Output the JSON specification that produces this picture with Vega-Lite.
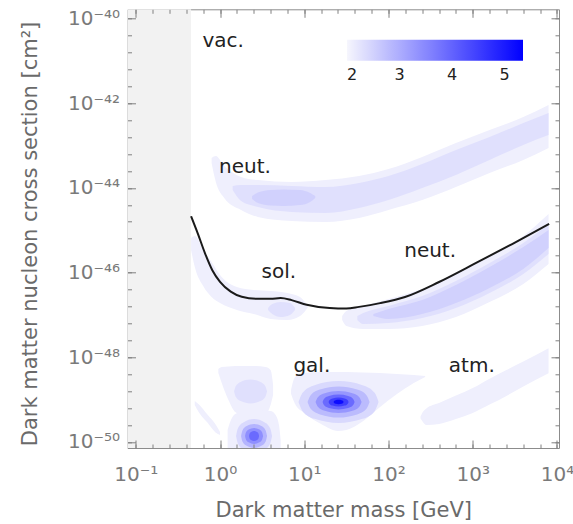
{
 "$schema": "https://vega.github.io/schema/vega-lite/v6.json",
 "width": 431.5,
 "height": 438.7,
 "autosize": {"type": "none"},
 "padding": {"left": 127.5, "top": 9.3, "right": 14, "bottom": 76},
 "background": "white",
 "config": {
  "view": {"stroke": "#8c8c8c", "strokeWidth": 1},
  "font": "DejaVu Sans",
  "axis": {"labelFont": "DejaVu Sans", "labelFontSize": 20, "labelColor": "#7a7a7a", "titleFont": "DejaVu Sans", "titleFontSize": 21, "titleFontWeight": "normal", "titleColor": "#6a6a6a", "ticks": true, "tickColor": "#808080", "tickWidth": 1, "tickOpacity": 1, "domain": false, "grid": false, "labelFlush": false, "labelOverlap": false}
 },
 "datasets": {
  "excl": [{"m0": 0.0797, "m1": 0.453, "s0": 7.21e-51, "s1": 1.65e-40}],
  "bands": [
   {"g":"nu1","v":2.1,"m":0.794,"lo":3.87e-44,"hi":5.08e-44},
   {"g":"nu1","v":2.1,"m":0.891,"lo":1.38e-44,"hi":5.66e-44},
   {"g":"nu1","v":2.1,"m":1.122,"lo":5.77e-45,"hi":3.29e-44},
   {"g":"nu1","v":2.1,"m":1.778,"lo":3.01e-45,"hi":1.81e-44},
   {"g":"nu1","v":2.1,"m":2.818,"lo":2.06e-45,"hi":1.53e-44},
   {"g":"nu1","v":2.1,"m":7.079,"lo":1.65e-45,"hi":1.38e-44},
   {"g":"nu1","v":2.1,"m":17.78,"lo":1.57e-45,"hi":1.53e-44},
   {"g":"nu1","v":2.1,"m":44.67,"lo":1.95e-45,"hi":1.91e-44},
   {"g":"nu1","v":2.1,"m":100,"lo":3.01e-45,"hi":2.79e-44},
   {"g":"nu1","v":2.1,"m":251.2,"lo":5.18e-45,"hi":5.37e-44},
   {"g":"nu1","v":2.1,"m":631,"lo":1.05e-44,"hi":1.15e-43},
   {"g":"nu1","v":2.1,"m":1585,"lo":2.25e-44,"hi":2.33e-43},
   {"g":"nu1","v":2.1,"m":3981,"lo":4.56e-44,"hi":4.72e-43},
   {"g":"nu1","v":2.1,"m":7943,"lo":8.75e-44,"hi":9.06e-43},
   {"g":"nl1","v":2.1,"m":28.18,"lo":7.60e-48,"hi":9.44e-48},
   {"g":"nl1","v":2.1,"m":31.62,"lo":5.48e-48,"hi":1.24e-47},
   {"g":"nl1","v":2.1,"m":50.12,"lo":4.66e-48,"hi":1.63e-47},
   {"g":"nl1","v":2.1,"m":100,"lo":4.66e-48,"hi":2.38e-47},
   {"g":"nl1","v":2.1,"m":251.2,"lo":5.48e-48,"hi":4.10e-47},
   {"g":"nl1","v":2.1,"m":631,"lo":8.93e-48,"hi":9.27e-47},
   {"g":"nl1","v":2.1,"m":1585,"lo":2.02e-47,"hi":2.47e-46},
   {"g":"nl1","v":2.1,"m":3981,"lo":5.38e-47,"hi":7.31e-46},
   {"g":"nl1","v":2.1,"m":7943,"lo":1.60e-46,"hi":2.42e-45},
   {"g":"so1","v":2.1,"m":0.453,"lo":3.42e-46,"hi":6.56e-46},
   {"g":"so1","v":2.1,"m":0.505,"lo":1.29e-46,"hi":7.31e-46},
   {"g":"so1","v":2.1,"m":0.631,"lo":4.82e-47,"hi":3.42e-46},
   {"g":"so1","v":2.1,"m":0.794,"lo":2.65e-47,"hi":1.78e-46},
   {"g":"so1","v":2.1,"m":1,"lo":1.91e-47,"hi":8.77e-47},
   {"g":"so1","v":2.1,"m":1.585,"lo":1.31e-47,"hi":4.57e-47},
   {"g":"so1","v":2.1,"m":2.512,"lo":1.05e-47,"hi":3.88e-47},
   {"g":"so1","v":2.1,"m":3.981,"lo":8.02e-48,"hi":3.67e-47},
   {"g":"so1","v":2.1,"m":6.31,"lo":7.60e-48,"hi":3.30e-47},
   {"g":"so1","v":2.1,"m":8.913,"lo":9.44e-48,"hi":2.65e-47},
   {"g":"so1","v":2.1,"m":10.47,"lo":1.31e-47,"hi":1.91e-47},
   {"g":"so1","v":2.1,"m":11.09,"lo":1.55e-47,"hi":1.70e-47},
   {"g":"ga1","v":2.1,"m":6.97,"lo":1.36e-49,"hi":1.69e-49},
   {"g":"ga1","v":2.1,"m":7.78,"lo":7.89e-50,"hi":3.43e-49},
   {"g":"ga1","v":2.1,"m":10,"lo":4.84e-50,"hi":4.26e-49},
   {"g":"ga1","v":2.1,"m":15.85,"lo":2.66e-50,"hi":4.50e-49},
   {"g":"ga1","v":2.1,"m":25.12,"lo":1.82e-50,"hi":4.50e-49},
   {"g":"ga1","v":2.1,"m":31.62,"lo":1.92e-50,"hi":4.50e-49},
   {"g":"ga1","v":2.1,"m":50.12,"lo":3.13e-50,"hi":4.38e-49},
   {"g":"ga1","v":2.1,"m":79.43,"lo":6.70e-50,"hi":4.26e-49},
   {"g":"ga1","v":2.1,"m":125.9,"lo":1.36e-49,"hi":4.04e-49},
   {"g":"ga1","v":2.1,"m":199.5,"lo":2.47e-49,"hi":3.82e-49},
   {"g":"ga1","v":2.1,"m":272.3,"lo":3.43e-49,"hi":3.61e-49},
   {"g":"bl1","v":2.1,"m":0.955,"lo":4.26e-49,"hi":5.30e-49},
   {"g":"bl1","v":2.1,"m":1.047,"lo":2.47e-49,"hi":5.90e-49},
   {"g":"bl1","v":2.1,"m":1.259,"lo":9.82e-50,"hi":6.07e-49},
   {"g":"bl1","v":2.1,"m":1.514,"lo":5.11e-50,"hi":6.22e-49},
   {"g":"bl1","v":2.1,"m":1.995,"lo":4.11e-50,"hi":6.22e-49},
   {"g":"bl1","v":2.1,"m":2.63,"lo":4.11e-50,"hi":6.22e-49},
   {"g":"bl1","v":2.1,"m":3.467,"lo":4.58e-50,"hi":5.90e-49},
   {"g":"bl1","v":2.1,"m":3.981,"lo":7.48e-50,"hi":5.01e-49},
   {"g":"bl1","v":2.1,"m":4.266,"lo":1.29e-49,"hi":2.22e-49},
   {"g":"bm1","v":2.1,"m":1.23,"lo":4.93e-51,"hi":1.92e-50},
   {"g":"bm1","v":2.1,"m":1.318,"lo":4.93e-51,"hi":2.96e-50},
   {"g":"bm1","v":2.1,"m":1.514,"lo":4.93e-51,"hi":4.58e-50},
   {"g":"bm1","v":2.1,"m":1.995,"lo":4.93e-51,"hi":5.40e-50},
   {"g":"bm1","v":2.1,"m":2.818,"lo":4.93e-51,"hi":5.69e-50},
   {"g":"bm1","v":2.1,"m":3.981,"lo":4.93e-51,"hi":5.40e-50},
   {"g":"bm1","v":2.1,"m":4.571,"lo":4.93e-51,"hi":4.34e-50},
   {"g":"bm1","v":2.1,"m":5.012,"lo":4.93e-51,"hi":2.52e-50},
   {"g":"bm1","v":2.1,"m":5.248,"lo":4.93e-51,"hi":1.11e-50},
   {"g":"sl1","v":2.1,"m":0.501,"lo":7.48e-50,"hi":9.29e-50},
   {"g":"sl1","v":2.1,"m":0.562,"lo":4.97e-50,"hi":7.69e-50},
   {"g":"sl1","v":2.1,"m":0.708,"lo":2.87e-50,"hi":4.44e-50},
   {"g":"sl1","v":2.1,"m":0.891,"lo":1.66e-50,"hi":2.56e-50},
   {"g":"sl1","v":2.1,"m":1.0,"lo":1.46e-50,"hi":1.72e-50},
   {"g":"at1","v":2.1,"m":239.9,"lo":3.6e-50,"hi":4.0e-50},
   {"g":"at1","v":2.1,"m":251.2,"lo":3.13e-50,"hi":4.84e-50},
   {"g":"at1","v":2.1,"m":281.8,"lo":2.52e-50,"hi":6.18e-50},
   {"g":"at1","v":2.1,"m":398.1,"lo":2.66e-50,"hi":8.34e-50},
   {"g":"at1","v":2.1,"m":631,"lo":3.49e-50,"hi":1.25e-49},
   {"g":"at1","v":2.1,"m":1000,"lo":4.84e-50,"hi":1.88e-49},
   {"g":"at1","v":2.1,"m":1585,"lo":7.64e-50,"hi":3.13e-49},
   {"g":"at1","v":2.1,"m":2512,"lo":1.22e-49,"hi":5.01e-49},
   {"g":"at1","v":2.1,"m":3981,"lo":2.05e-49,"hi":7.96e-49},
   {"g":"at1","v":2.1,"m":7943,"lo":4.19e-49,"hi":1.63e-48},
   {"g":"nu2","v":2.3,"m":1.413,"lo":8.91e-45,"hi":1.11e-44},
   {"g":"nu2","v":2.3,"m":1.778,"lo":4.91e-45,"hi":1.17e-44},
   {"g":"nu2","v":2.3,"m":2.818,"lo":3.54e-45,"hi":1.17e-44},
   {"g":"nu2","v":2.3,"m":7.079,"lo":2.70e-45,"hi":1.11e-44},
   {"g":"nu2","v":2.3,"m":17.78,"lo":2.55e-45,"hi":1.05e-44},
   {"g":"nu2","v":2.3,"m":44.67,"lo":3.35e-45,"hi":1.31e-44},
   {"g":"nu2","v":2.3,"m":100,"lo":5.18e-45,"hi":1.91e-44},
   {"g":"nu2","v":2.3,"m":251.2,"lo":9.95e-45,"hi":3.66e-44},
   {"g":"nu2","v":2.3,"m":631,"lo":2.02e-44,"hi":7.85e-44},
   {"g":"nu2","v":2.3,"m":1585,"lo":4.56e-44,"hi":1.59e-43},
   {"g":"nu2","v":2.3,"m":3981,"lo":1.03e-43,"hi":3.40e-43},
   {"g":"nu2","v":2.3,"m":7943,"lo":1.77e-43,"hi":5.87e-43},
   {"g":"nl2","v":2.3,"m":42.66,"lo":7.60e-48,"hi":9.44e-48},
   {"g":"nl2","v":2.3,"m":50.12,"lo":6.11e-48,"hi":1.11e-47},
   {"g":"nl2","v":2.3,"m":100,"lo":6.46e-48,"hi":1.63e-47},
   {"g":"nl2","v":2.3,"m":251.2,"lo":8.47e-48,"hi":2.80e-47},
   {"g":"nl2","v":2.3,"m":631,"lo":1.46e-47,"hi":6.34e-47},
   {"g":"nl2","v":2.3,"m":1585,"lo":3.30e-47,"hi":1.69e-46},
   {"g":"nl2","v":2.3,"m":3981,"lo":9.27e-47,"hi":5.00e-46},
   {"g":"nl2","v":2.3,"m":7943,"lo":2.75e-46,"hi":1.41e-45},
   {"g":"so2","v":2.3,"m":3.715,"lo":1.31e-47,"hi":1.46e-47},
   {"g":"so2","v":2.3,"m":4.169,"lo":1.05e-47,"hi":1.81e-47},
   {"g":"so2","v":2.3,"m":5.248,"lo":8.93e-48,"hi":2.02e-47},
   {"g":"so2","v":2.3,"m":6.761,"lo":9.98e-48,"hi":1.91e-47},
   {"g":"so2","v":2.3,"m":7.762,"lo":1.31e-47,"hi":1.46e-47},
   {"g":"bl2","v":2.3,"m":1.467,"lo":1.556e-49,"hi":1.556e-49},
   {"g":"bl2","v":2.3,"m":1.534,"lo":1.17e-49,"hi":2.07e-49},
   {"g":"bl2","v":2.3,"m":1.757,"lo":9.23e-50,"hi":2.62e-49},
   {"g":"bl2","v":2.3,"m":2.302,"lo":8.11e-50,"hi":2.99e-49},
   {"g":"bl2","v":2.3,"m":3.019,"lo":9.23e-50,"hi":2.62e-49},
   {"g":"bl2","v":2.3,"m":3.456,"lo":1.17e-49,"hi":2.07e-49},
   {"g":"bl2","v":2.3,"m":3.616,"lo":1.556e-49,"hi":1.556e-49},
   {"g":"ga2","v":2.4,"m":8.55,"lo":8.79e-50,"hi":8.79e-50},
   {"g":"ga2","v":2.4,"m":9.55,"lo":5.35e-50,"hi":1.445e-49},
   {"g":"ga2","v":2.4,"m":13.24,"lo":3.52e-50,"hi":2.19e-49},
   {"g":"ga2","v":2.4,"m":25.53,"lo":2.81e-50,"hi":2.75e-49},
   {"g":"ga2","v":2.4,"m":49.2,"lo":3.52e-50,"hi":2.19e-49},
   {"g":"ga2","v":2.4,"m":68.4,"lo":5.35e-50,"hi":1.445e-49},
   {"g":"ga2","v":2.4,"m":76.2,"lo":8.79e-50,"hi":8.79e-50},
   {"g":"bl3","v":2.4,"m":1.549,"lo":1.387e-50,"hi":1.387e-50},
   {"g":"bl3","v":2.4,"m":1.627,"lo":9.27e-51,"hi":2.07e-50},
   {"g":"bl3","v":2.4,"m":1.886,"lo":6.62e-51,"hi":2.90e-50},
   {"g":"bl3","v":2.4,"m":2.534,"lo":5.51e-51,"hi":3.49e-50},
   {"g":"bl3","v":2.4,"m":3.405,"lo":6.62e-51,"hi":2.90e-50},
   {"g":"bl3","v":2.4,"m":3.947,"lo":9.27e-51,"hi":2.07e-50},
   {"g":"bl3","v":2.4,"m":4.147,"lo":1.387e-50,"hi":1.387e-50},
   {"g":"nu3","v":2.5,"m":2.399,"lo":5.47e-45,"hi":6.44e-45},
   {"g":"nu3","v":2.5,"m":2.818,"lo":4.40e-45,"hi":7.78e-45},
   {"g":"nu3","v":2.5,"m":3.981,"lo":3.84e-45,"hi":8.91e-45},
   {"g":"nu3","v":2.5,"m":5.623,"lo":3.74e-45,"hi":9.16e-45},
   {"g":"nu3","v":2.5,"m":8.913,"lo":3.94e-45,"hi":8.91e-45},
   {"g":"nu3","v":2.5,"m":11.75,"lo":4.65e-45,"hi":7.59e-45},
   {"g":"nu3","v":2.5,"m":13.49,"lo":5.77e-45,"hi":6.44e-45},
   {"g":"nl3","v":2.5,"m":66.07,"lo":9.44e-48,"hi":1.05e-47},
   {"g":"nl3","v":2.5,"m":100,"lo":8.02e-48,"hi":1.38e-47},
   {"g":"nl3","v":2.5,"m":251.2,"lo":1.05e-47,"hi":2.25e-47},
   {"g":"nl3","v":2.5,"m":631,"lo":1.91e-47,"hi":5.09e-47},
   {"g":"nl3","v":2.5,"m":1585,"lo":4.33e-47,"hi":1.36e-46},
   {"g":"nl3","v":2.5,"m":3981,"lo":1.22e-46,"hi":4.02e-46},
   {"g":"nl3","v":2.5,"m":7943,"lo":3.81e-46,"hi":1.01e-45},
   {"g":"ga3","v":2.8,"m":10.94,"lo":8.79e-50,"hi":8.79e-50},
   {"g":"ga3","v":2.8,"m":11.91,"lo":6.08e-50,"hi":1.27e-49},
   {"g":"ga3","v":2.8,"m":15.37,"lo":4.48e-50,"hi":1.73e-49},
   {"g":"ga3","v":2.8,"m":25.53,"lo":3.78e-50,"hi":2.04e-49},
   {"g":"ga3","v":2.8,"m":42.46,"lo":4.48e-50,"hi":1.73e-49},
   {"g":"ga3","v":2.8,"m":54.8,"lo":6.08e-50,"hi":1.27e-49},
   {"g":"ga3","v":2.8,"m":59.6,"lo":8.79e-50,"hi":8.79e-50},
   {"g":"bl4","v":2.9,"m":1.776,"lo":1.387e-50,"hi":1.387e-50},
   {"g":"bl4","v":2.9,"m":1.84,"lo":1.04e-50,"hi":1.84e-50},
   {"g":"bl4","v":2.9,"m":2.047,"lo":8.22e-51,"hi":2.34e-50},
   {"g":"bl4","v":2.9,"m":2.534,"lo":7.23e-51,"hi":2.66e-50},
   {"g":"bl4","v":2.9,"m":3.136,"lo":8.22e-51,"hi":2.34e-50},
   {"g":"bl4","v":2.9,"m":3.49,"lo":1.04e-50,"hi":1.84e-50},
   {"g":"bl4","v":2.9,"m":3.616,"lo":1.387e-50,"hi":1.387e-50},
   {"g":"ga4","v":3.3,"m":13.62,"lo":8.79e-50,"hi":8.79e-50},
   {"g":"ga4","v":3.3,"m":14.51,"lo":6.78e-50,"hi":1.14e-49},
   {"g":"ga4","v":3.3,"m":17.52,"lo":5.45e-50,"hi":1.42e-49},
   {"g":"ga4","v":3.3,"m":25.53,"lo":4.83e-50,"hi":1.60e-49},
   {"g":"ga4","v":3.3,"m":37.26,"lo":5.45e-50,"hi":1.42e-49},
   {"g":"ga4","v":3.3,"m":45.0,"lo":6.78e-50,"hi":1.14e-49},
   {"g":"ga4","v":3.3,"m":47.9,"lo":8.79e-50,"hi":8.79e-50},
   {"g":"bl5","v":3.4,"m":1.981,"lo":1.387e-50,"hi":1.387e-50},
   {"g":"bl5","v":3.4,"m":2.031,"lo":1.15e-50,"hi":1.67e-50},
   {"g":"bl5","v":3.4,"m":2.186,"lo":9.79e-51,"hi":1.96e-50},
   {"g":"bl5","v":3.4,"m":2.534,"lo":8.97e-51,"hi":2.14e-50},
   {"g":"bl5","v":3.4,"m":2.937,"lo":9.79e-51,"hi":1.96e-50},
   {"g":"bl5","v":3.4,"m":3.162,"lo":1.15e-50,"hi":1.67e-50},
   {"g":"bl5","v":3.4,"m":3.242,"lo":1.387e-50,"hi":1.387e-50},
   {"g":"ga5","v":3.9,"m":16.5,"lo":8.79e-50,"hi":8.79e-50},
   {"g":"ga5","v":3.9,"m":17.23,"lo":7.36e-50,"hi":1.05e-49},
   {"g":"ga5","v":3.9,"m":19.65,"lo":6.34e-50,"hi":1.22e-49},
   {"g":"ga5","v":3.9,"m":25.53,"lo":5.85e-50,"hi":1.32e-49},
   {"g":"ga5","v":3.9,"m":33.22,"lo":6.34e-50,"hi":1.22e-49},
   {"g":"ga5","v":3.9,"m":37.88,"lo":7.36e-50,"hi":1.05e-49},
   {"g":"ga5","v":3.9,"m":39.57,"lo":8.79e-50,"hi":8.79e-50},
   {"g":"bl6","v":3.9,"m":2.21,"lo":1.387e-50,"hi":1.387e-50},
   {"g":"bl6","v":3.9,"m":2.241,"lo":1.23e-50,"hi":1.56e-50},
   {"g":"bl6","v":3.9,"m":2.334,"lo":1.12e-50,"hi":1.72e-50},
   {"g":"bl6","v":3.9,"m":2.534,"lo":1.06e-50,"hi":1.82e-50},
   {"g":"bl6","v":3.9,"m":2.75,"lo":1.12e-50,"hi":1.72e-50},
   {"g":"bl6","v":3.9,"m":2.866,"lo":1.23e-50,"hi":1.56e-50},
   {"g":"bl6","v":3.9,"m":2.906,"lo":1.387e-50,"hi":1.387e-50},
   {"g":"ga6","v":4.5,"m":19.44,"lo":8.79e-50,"hi":8.79e-50},
   {"g":"ga6","v":4.5,"m":19.98,"lo":7.91e-50,"hi":9.77e-50},
   {"g":"ga6","v":4.5,"m":21.68,"lo":7.23e-50,"hi":1.07e-49},
   {"g":"ga6","v":4.5,"m":25.53,"lo":6.89e-50,"hi":1.12e-49},
   {"g":"ga6","v":4.5,"m":30.1,"lo":7.23e-50,"hi":1.07e-49},
   {"g":"ga6","v":4.5,"m":32.68,"lo":7.91e-50,"hi":9.77e-50},
   {"g":"ga6","v":4.5,"m":33.58,"lo":8.79e-50,"hi":8.79e-50},
   {"g":"ga7","v":5.2,"m":22.28,"lo":8.79e-50,"hi":8.79e-50},
   {"g":"ga7","v":5.2,"m":22.59,"lo":8.34e-50,"hi":9.27e-50},
   {"g":"ga7","v":5.2,"m":23.53,"lo":7.99e-50,"hi":9.67e-50},
   {"g":"ga7","v":5.2,"m":25.53,"lo":7.80e-50,"hi":9.91e-50},
   {"g":"ga7","v":5.2,"m":27.73,"lo":7.99e-50,"hi":9.67e-50},
   {"g":"ga7","v":5.2,"m":28.89,"lo":8.34e-50,"hi":9.27e-50},
   {"g":"ga7","v":5.2,"m":29.29,"lo":8.79e-50,"hi":8.79e-50}
  ],
  "limit": [
   {"m":0.453,"s":2.14e-45},{"m":0.545,"s":8.32e-46},{"m":0.665,"s":2.82e-46},{"m":0.813,"s":1.12e-46},
   {"m":1,"s":6.03e-47},{"m":1.34,"s":3.55e-47},{"m":1.81,"s":2.69e-47},{"m":2.82,"s":2.40e-47},
   {"m":3.98,"s":2.40e-47},{"m":5.25,"s":2.51e-47},{"m":7.08,"s":2.24e-47},{"m":10.7,"s":1.74e-47},
   {"m":20,"s":1.45e-47},{"m":31.6,"s":1.41e-47},{"m":44.7,"s":1.55e-47},{"m":79.4,"s":1.90e-47},
   {"m":157,"s":2.65e-47},{"m":398,"s":6.00e-47},{"m":1096,"s":1.69e-46},{"m":2938,"s":4.73e-46},
   {"m":8072,"s":1.41e-45}
  ],
  "labels": [
   {"m":1.09,"s":2.12e-41,"t":"vac."},
   {"m":1.98,"s":2.19e-44,"t":"neut."},
   {"m":4.99,"s":7.33e-47,"t":"sol."},
   {"m":312,"s":2.38e-46,"t":"neut."},
   {"m":12.3,"s":4.57e-49,"t":"gal."},
   {"m":975,"s":4.57e-49,"t":"atm."}
  ]
 },
 "layer": [
  {
   "data": {"name": "excl"},
   "mark": {"type": "rect", "color": "#f2f2f2"},
   "encoding": {
    "x": {"field": "m0", "type": "quantitative", "scale": {"type": "log", "domain": [0.0797, 10570], "nice": false},
     "axis": {"orient": "top", "title": null, "labels": false, "offset": -8, "tickSize": 8, "zindex": 1, "values": [0.1, 1, 10, 100, 1000, 10000]}},
    "x2": {"field": "m1"},
    "y": {"field": "s0", "type": "quantitative", "scale": {"type": "log", "domain": [7.21e-51, 1.65e-40], "nice": false},
     "axis": {"orient": "right", "title": null, "labels": false, "offset": -8, "tickSize": 8, "zindex": 1, "values": [1e-40, 1e-42, 1e-44, 1e-46, 1e-48, 1e-50]}},
    "y2": {"field": "s1"}
   }
  },
  {
   "data": {"name": "bands"},
   "mark": {"type": "area", "interpolate": "monotone", "clip": true, "opacity": 1},
   "encoding": {
    "x": {"field": "m", "type": "quantitative", "scale": {"type": "log", "domain": [0.0797, 10570], "nice": false},
     "axis": {"orient": "bottom", "title": "Dark matter mass [GeV]", "titleBaseline": "alphabetic", "titleY": 72.7, "zindex": 1,
      "values": [0.1,0.1585,0.2512,0.3981,0.631,1,1.585,2.512,3.981,6.31,10,15.85,25.12,39.81,63.1,100,158.5,251.2,398.1,631,1000,1585,2512,3981,6310,10000],
      "labelExpr": "abs(log(datum.value)/LN10 - round(log(datum.value)/LN10)) < 0.01 ? ['10⁻¹','10⁰','10¹','10²','10³','10⁴'][round(log(datum.value)/LN10) + 1] : ''",
      "offset": -4, "tickSize": 4, "labelPadding": 16}},
    "y": {"field": "lo", "type": "quantitative", "stack": null, "scale": {"type": "log", "domain": [7.21e-51, 1.65e-40], "nice": false},
     "axis": {"orient": "left", "title": "Dark matter nucleon cross section [cm²]", "titleX": -95.5, "titleY": 224.2, "titleBaseline": "alphabetic", "titleAlign": "center", "titleAngle": -90, "zindex": 1,
      "values": [1e-40,3.98e-41,1.585e-41,6.31e-42,2.512e-42,1e-42,3.98e-43,1.585e-43,6.31e-44,2.512e-44,1e-44,3.98e-45,1.585e-45,6.31e-46,2.512e-46,1e-46,3.98e-47,1.585e-47,6.31e-48,2.512e-48,1e-48,3.98e-49,1.585e-49,6.31e-50,2.512e-50,1e-50],
      "labelExpr": "abs(log(datum.value)/LN10 - round(log(datum.value)/LN10)) < 0.01 ? ['10⁻⁵⁰','10⁻⁴⁸','10⁻⁴⁶','10⁻⁴⁴','10⁻⁴²','10⁻⁴⁰'][(round(log(datum.value)/LN10) + 50) / 2] : ''",
      "offset": -4, "tickSize": 4, "labelPadding": 8}},
    "y2": {"field": "hi"},
    "color": {"field": "v", "type": "quantitative", "scale": {"domain": [2, 5.35], "range": ["#f6f6fd", "#0000ff"], "interpolate": "rgb"},
     "legend": {"orient": "none", "direction": "horizontal", "legendX": 219.5, "legendY": 30.4, "padding": 0, "title": null,
      "gradientLength": 176, "gradientThickness": 21, "gradientStrokeWidth": 0, "values": [2, 3, 4, 5],
      "labelFont": "DejaVu Sans", "labelFontSize": 16, "labelColor": "#222222", "labelOffset": 6, "labelAlign": "center"}},
    "detail": {"field": "g"}
   }
  },
  {
   "data": {"name": "limit"},
   "mark": {"type": "line", "color": "#1a1a1a", "strokeWidth": 2, "interpolate": "monotone"},
   "encoding": {
    "x": {"field": "m", "type": "quantitative", "scale": {"type": "log", "domain": [0.0797, 10570], "nice": false},
     "axis": {"orient": "top", "title": null, "labels": false, "offset": -4, "tickSize": 4, "zindex": 1,
      "values": [0.1,0.1585,0.2512,0.3981,0.631,1,1.585,2.512,3.981,6.31,10,15.85,25.12,39.81,63.1,100,158.5,251.2,398.1,631,1000,1585,2512,3981,6310,10000]}},
    "y": {"field": "s", "type": "quantitative", "scale": {"type": "log", "domain": [7.21e-51, 1.65e-40], "nice": false},
     "axis": {"orient": "right", "title": null, "labels": false, "offset": -4, "tickSize": 4, "zindex": 1,
      "values": [1e-40,3.98e-41,1.585e-41,6.31e-42,2.512e-42,1e-42,3.98e-43,1.585e-43,6.31e-44,2.512e-44,1e-44,3.98e-45,1.585e-45,6.31e-46,2.512e-46,1e-46,3.98e-47,1.585e-47,6.31e-48,2.512e-48,1e-48,3.98e-49,1.585e-49,6.31e-50,2.512e-50,1e-50]}}
   }
  },
  {
   "data": {"name": "labels"},
   "mark": {"type": "text", "font": "DejaVu Sans", "fontSize": 20, "color": "#222222", "align": "center", "baseline": "alphabetic"},
   "encoding": {
    "x": {"field": "m", "type": "quantitative", "scale": {"type": "log", "domain": [0.0797, 10570], "nice": false},
     "axis": {"orient": "bottom", "title": null, "labels": false, "offset": -8, "tickSize": 8, "zindex": 1, "values": [0.1, 1, 10, 100, 1000, 10000]}},
    "y": {"field": "s", "type": "quantitative", "scale": {"type": "log", "domain": [7.21e-51, 1.65e-40], "nice": false},
     "axis": {"orient": "left", "title": null, "labels": false, "offset": -8, "tickSize": 8, "zindex": 1, "values": [1e-40, 1e-42, 1e-44, 1e-46, 1e-48, 1e-50]}},
    "text": {"field": "t"}
   }
  }
 ],
 "resolve": {"axis": {"x": "independent", "y": "independent"}}
}
